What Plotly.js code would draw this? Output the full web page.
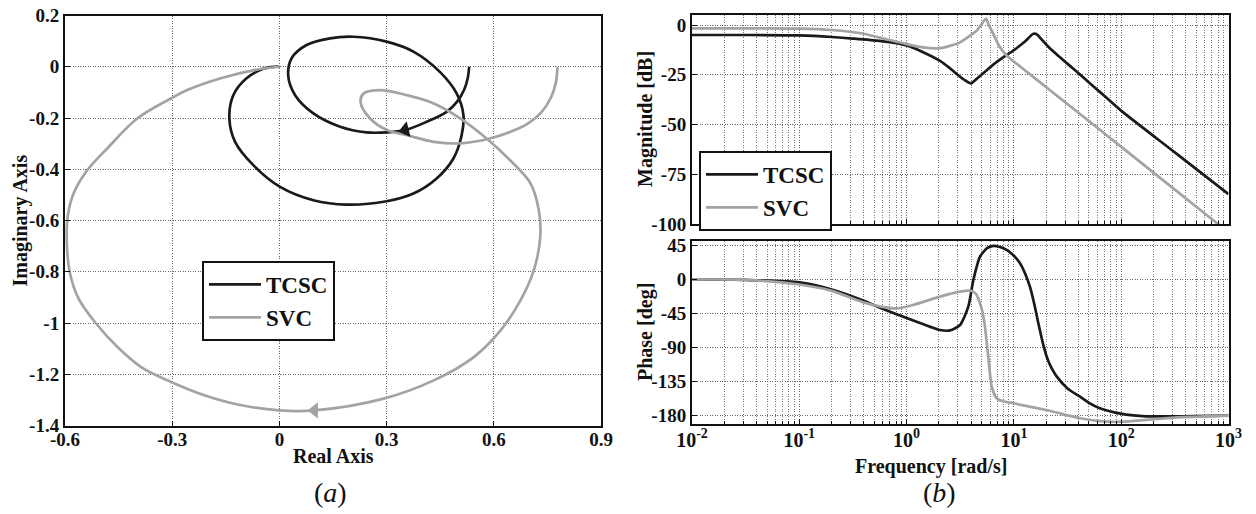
<!DOCTYPE html>
<html>
<head>
<meta charset="utf-8">
<script src="https://cdn.plot.ly/plotly-3.0.1.min.js"></script>
<style>
html,body{margin:0;padding:0;background:#fff;}
#chart{width:1256px;height:514px;}
</style>
</head>
<body>
<div id="chart"></div>
<script>
// ---------- Nyquist data (a) ----------
const tcscRe = [0.531, 0.527, 0.517, 0.498, 0.468, 0.412, 0.352, 0.30, 0.244, 0.170, 0.095, 0.044, 0.025, 0.034, 0.076, 0.142, 0.207, 0.30, 0.375, 0.449, 0.496, 0.515, 0.51, 0.487, 0.44, 0.375, 0.30, 0.188, 0.095, 0.002, -0.073, -0.124, -0.14, -0.129, -0.092, -0.045, -0.012, 0];
const tcscIm = [0, -0.045, -0.09, -0.135, -0.176, -0.215, -0.247, -0.256, -0.256, -0.234, -0.182, -0.111, -0.039, 0.033, 0.085, 0.111, 0.117, 0.098, 0.059, -0.02, -0.104, -0.189, -0.267, -0.358, -0.436, -0.495, -0.525, -0.538, -0.521, -0.469, -0.384, -0.293, -0.202, -0.111, -0.045, -0.008, 0, 0];
const svcRe = [0.778, 0.774, 0.76, 0.733, 0.695, 0.645, 0.589, 0.507, 0.432, 0.357, 0.301, 0.254, 0.227, 0.236, 0.283, 0.357, 0.432, 0.507, 0.58, 0.645, 0.703, 0.726, 0.73, 0.712, 0.675, 0.619, 0.544, 0.432, 0.292, 0.098, 0.0, -0.117, -0.21, -0.303, -0.387, -0.453, -0.513, -0.562, -0.587, -0.595, -0.592, -0.576, -0.54, -0.482, -0.398, -0.304, -0.258, -0.164, -0.071, -0.015, 0];
const svcIm = [0, -0.06, -0.12, -0.178, -0.222, -0.255, -0.28, -0.299, -0.293, -0.267, -0.247, -0.202, -0.137, -0.104, -0.091, -0.111, -0.143, -0.202, -0.28, -0.364, -0.456, -0.56, -0.664, -0.794, -0.911, -1.029, -1.133, -1.224, -1.295, -1.341, -1.341, -1.318, -1.282, -1.23, -1.172, -1.094, -1.002, -0.905, -0.80, -0.68, -0.579, -0.495, -0.408, -0.319, -0.202, -0.124, -0.091, -0.045, -0.013, -0.002, 0];
// direction arrows on the Nyquist curves
const tcscArrowRe = [0.352], tcscArrowIm = [-0.247];
const svcArrowRe = [0.098], svcArrowIm = [-1.341];

// ---------- Bode data (b) ----------
const wTcscMag = [0.01, 0.0316, 0.1, 0.2, 0.316, 0.562, 1.0, 1.41, 2.05, 2.51, 2.93, 3.55, 3.98, 4.47, 4.83, 5.62, 6.43, 7.94, 9.89, 12.6, 15.2, 16.6, 17.5, 21.4, 26.9, 33.1, 41.3, 50.1, 63.1, 79.4, 101.6, 316, 1000];
const tcscMag = [-5.0, -5.0, -5.2, -6.0, -6.8, -8.0, -10.2, -13.5, -18.0, -21.5, -24.6, -28.0, -29.3, -27.2, -25.6, -22.6, -19.9, -16.3, -12.8, -8.4, -4.4, -4.9, -6.3, -11.4, -16.2, -20.4, -24.9, -28.9, -33.6, -38.3, -43.4, -64.0, -85.0];
const wSvcMag = [0.01, 0.1, 0.2, 0.407, 0.562, 1.0, 1.41, 2.05, 2.63, 3.15, 3.98, 4.5, 5.01, 5.5, 5.82, 6.21, 6.76, 7.41, 8.51, 9.89, 14.1, 20.2, 28.2, 41.3, 63.1, 101.6, 316, 782, 1000];
const svcMag = [-1.7, -1.8, -2.5, -4.5, -6.3, -9.6, -11.2, -11.6, -10.2, -8.7, -5.0, -2.8, 0.5, 3.2, 0.0, -2.8, -7.0, -11.2, -15.2, -18.2, -24.7, -31.4, -37.6, -44.7, -52.6, -61.5, -82.7, -99.6, -104.2];
const wTcscPh = [0.01, 0.0316, 0.1, 0.197, 0.404, 0.565, 1.0, 2.05, 2.54, 3.15, 3.76, 4.19, 4.83, 5.62, 6.43, 7.41, 8.55, 10.0, 11.4, 12.6, 14.1, 15.5, 16.9, 18.6, 20.2, 22.4, 25.1, 31.6, 41.3, 50.1, 63.1, 101.6, 158, 251, 501, 1000];
const tcscPh = [0, -0.9, -4, -13.2, -28.6, -37.5, -51, -66.9, -67.5, -60.3, -36.1, -1, 29.8, 41, 44, 42.5, 38.7, 31, 21.1, 9, -9.8, -33, -58.1, -84, -102, -117, -128.5, -144, -154.9, -163, -170.2, -177.7, -180.5, -181, -180.5, -180];
const wSvcPh = [0.01, 0.0316, 0.0966, 0.197, 0.404, 0.575, 0.807, 1.15, 2.05, 3.15, 4.04, 4.47, 4.83, 5.13, 5.37, 5.77, 6.21, 6.90, 7.94, 9.89, 20.2, 41.3, 73.3, 101.6, 158, 316, 1000];
const svcPh = [0, -0.9, -6.6, -15, -30.8, -36.1, -38.5, -33.9, -22.9, -16.3, -15.4, -20, -31.7, -45, -62.5, -102, -141.7, -157, -161, -163.6, -172.5, -183.4, -187.9, -187.9, -186, -182.5, -180];

// ---------- tick labels & texts ----------
const reTicks = [-0.6, -0.3, 0, 0.3, 0.6, 0.9];
const reTickText = ['-0.6', '-0.3', '0', '0.3', '0.6', '0.9'];
const imTicks = [0.2, 0, -0.2, -0.4, -0.6, -0.8, -1, -1.2, -1.4];
const imTickText = ['0.2', '0', '-0.2', '-0.4', '-0.6', '-0.8', '-1', '-1.2', '-1.4'];
const freqTicks = [0.01, 0.1, 1, 10, 100, 1000];
const freqTickText = ['10<sup>-2</sup>', '10<sup>-1</sup>', '10<sup>0</sup>', '10<sup>1</sup>', '10<sup>2</sup>', '10<sup>3</sup>'];
const magTicks = [0, -25, -50, -75, -100];
const magTickText = ['0', '-25', '-50', '-75', '-100'];
const phTicks = [45, 0, -45, -90, -135, -180];
const phTickText = ['45', '0', '-45', '-90', '-135', '-180'];
const seriesNames = ['TCSC', 'SVC'];
const axisTitles = {re: 'Real Axis', im: 'Imaginary Axis', mag: 'Magnitude [dB]', ph: 'Phase [deg]', freq: 'Frequency [rad/s]'};
const panelLabels = ['(<i>a</i>)', '(<i>b</i>)'];

// minor decade gridlines (2..9 in each decade)
const minorFreq = [];
for (let e = -2; e < 3; e++) for (let d = 2; d <= 9; d++) minorFreq.push(d * Math.pow(10, e));

const bold = arr => arr.map(t => '<b>' + t + '</b>');
const BLACK = '#1a1a1a', GRAY = '#a3a3a3';
const FONT = '"Liberation Serif", "Times New Roman", Times, serif';
const W = 1256, H = 514;
const px = v => v / W, py = v => 1 - v / H;

const lineStyle = (c, s) => ({color: c, width: 2.7, shape: 'spline', smoothing: s});

const traces = [
  {x: tcscRe, y: tcscIm, xaxis: 'x', yaxis: 'y', mode: 'lines', name: seriesNames[0], line: lineStyle(BLACK, 1), legend: 'legend'},
  {x: svcRe, y: svcIm, xaxis: 'x', yaxis: 'y', mode: 'lines', name: seriesNames[1], line: lineStyle(GRAY, 1), legend: 'legend'},
  {x: tcscArrowRe, y: tcscArrowIm, xaxis: 'x', yaxis: 'y', mode: 'markers', showlegend: false, marker: {symbol: 'triangle-left', size: 14, color: BLACK, angle: -14}},
  {x: svcArrowRe, y: svcArrowIm, xaxis: 'x', yaxis: 'y', mode: 'markers', showlegend: false, marker: {symbol: 'triangle-left', size: 14, color: GRAY}},
  {x: wTcscMag, y: tcscMag, xaxis: 'x2', yaxis: 'y2', mode: 'lines', name: seriesNames[0], line: lineStyle(BLACK, 0.6), legend: 'legend2'},
  {x: wSvcMag, y: svcMag, xaxis: 'x2', yaxis: 'y2', mode: 'lines', name: seriesNames[1], line: lineStyle(GRAY, 0.6), legend: 'legend2'},
  {x: wTcscPh, y: tcscPh, xaxis: 'x3', yaxis: 'y3', mode: 'lines', showlegend: false, line: lineStyle(BLACK, 0.6)},
  {x: wSvcPh, y: svcPh, xaxis: 'x3', yaxis: 'y3', mode: 'lines', showlegend: false, line: lineStyle(GRAY, 0.6)}
];

const tickFont = {family: FONT, size: 19, color: '#111'};
const titleFont = {family: FONT, size: 20, color: '#111'};
const gridDash = '1px,1.5px';
const base = {
  showline: true, mirror: true, linecolor: '#111', linewidth: 2,
  ticks: 'inside', ticklen: 5, tickcolor: '#111', tickwidth: 1,
  showgrid: true, gridcolor: '#666', gridwidth: 1, griddash: gridDash,
  zeroline: false, tickfont: tickFont, automargin: false, fixedrange: true, tickmode: 'array'
};
const logMinor = {tickmode: 'array', tickvals: minorFreq, showgrid: true, gridcolor: '#777', griddash: gridDash, gridwidth: 1, ticks: 'inside', ticklen: 3, tickcolor: '#111'};
const legendFont = {family: FONT, size: 23, color: '#111', weight: 'bold'};

const titleAnn = (text, x, y, angle) => ({text: '<b>' + text + '</b>', xref: 'paper', yref: 'paper', x: px(x), y: py(y),
  xanchor: 'center', yanchor: 'middle', showarrow: false, textangle: angle, font: titleFont});

const layout = {
  width: W, height: H,
  margin: {l: 0, r: 0, t: 0, b: 0},
  paper_bgcolor: '#fff', plot_bgcolor: '#fff',
  font: {family: FONT, color: '#111'},
  xaxis: Object.assign({}, base, {domain: [px(65), px(601)], range: [-0.6, 0.9], tickvals: reTicks, ticktext: bold(reTickText), ticklabelstandoff: -4}),
  yaxis: Object.assign({}, base, {domain: [py(425.5), py(15.5)], range: [-1.4, 0.2], tickvals: imTicks, ticktext: bold(imTickText)}),
  xaxis2: Object.assign({}, base, {domain: [px(692), px(1228.5)], type: 'log', range: [-2, 3], tickvals: freqTicks, ticktext: bold(freqTickText),
    showticklabels: false, minor: logMinor, anchor: 'y2'}),
  yaxis2: Object.assign({}, base, {domain: [py(224), py(14.5)], range: [-100, 5.3], tickvals: magTicks, ticktext: bold(magTickText), anchor: 'x2'}),
  xaxis3: Object.assign({}, base, {domain: [px(692), px(1228.5)], type: 'log', range: [-2, 3], tickvals: freqTicks, ticktext: bold(freqTickText),
    tickfont: Object.assign({}, tickFont, {size: 20}), minor: logMinor, anchor: 'y3', ticklabelstandoff: -3}),
  yaxis3: Object.assign({}, base, {domain: [py(423.5), py(241)], range: [-190.3, 50.5], tickvals: phTicks, ticktext: bold(phTickText), anchor: 'x3'}),
  legend: {x: px(202), y: py(261), xanchor: 'left', yanchor: 'top', bgcolor: '#fff', bordercolor: '#111', borderwidth: 2,
    font: legendFont, itemwidth: 52, tracegroupgap: 0},
  legend2: {x: px(699), y: py(151), xanchor: 'left', yanchor: 'top', bgcolor: '#fff', bordercolor: '#111', borderwidth: 2,
    font: legendFont, itemwidth: 52, tracegroupgap: 0},
  annotations: [
    titleAnn(axisTitles.re, 333, 456, 0),
    titleAnn(axisTitles.im, 20, 220.5, -90),
    titleAnn(axisTitles.mag, 645, 119, -90),
    titleAnn(axisTitles.ph, 645, 332, -90),
    titleAnn(axisTitles.freq, 931, 466, 0),
    {text: panelLabels[0], xref: 'paper', yref: 'paper', x: px(330), y: py(492), xanchor: 'center', yanchor: 'middle', showarrow: false,
      font: {family: FONT, size: 28, color: '#111'}},
    {text: panelLabels[1], xref: 'paper', yref: 'paper', x: px(940), y: py(492), xanchor: 'center', yanchor: 'middle', showarrow: false,
      font: {family: FONT, size: 28, color: '#111'}}
  ]
};

Plotly.newPlot('chart', traces, layout, {displayModeBar: false, staticPlot: true});
</script>
</body>
</html>
